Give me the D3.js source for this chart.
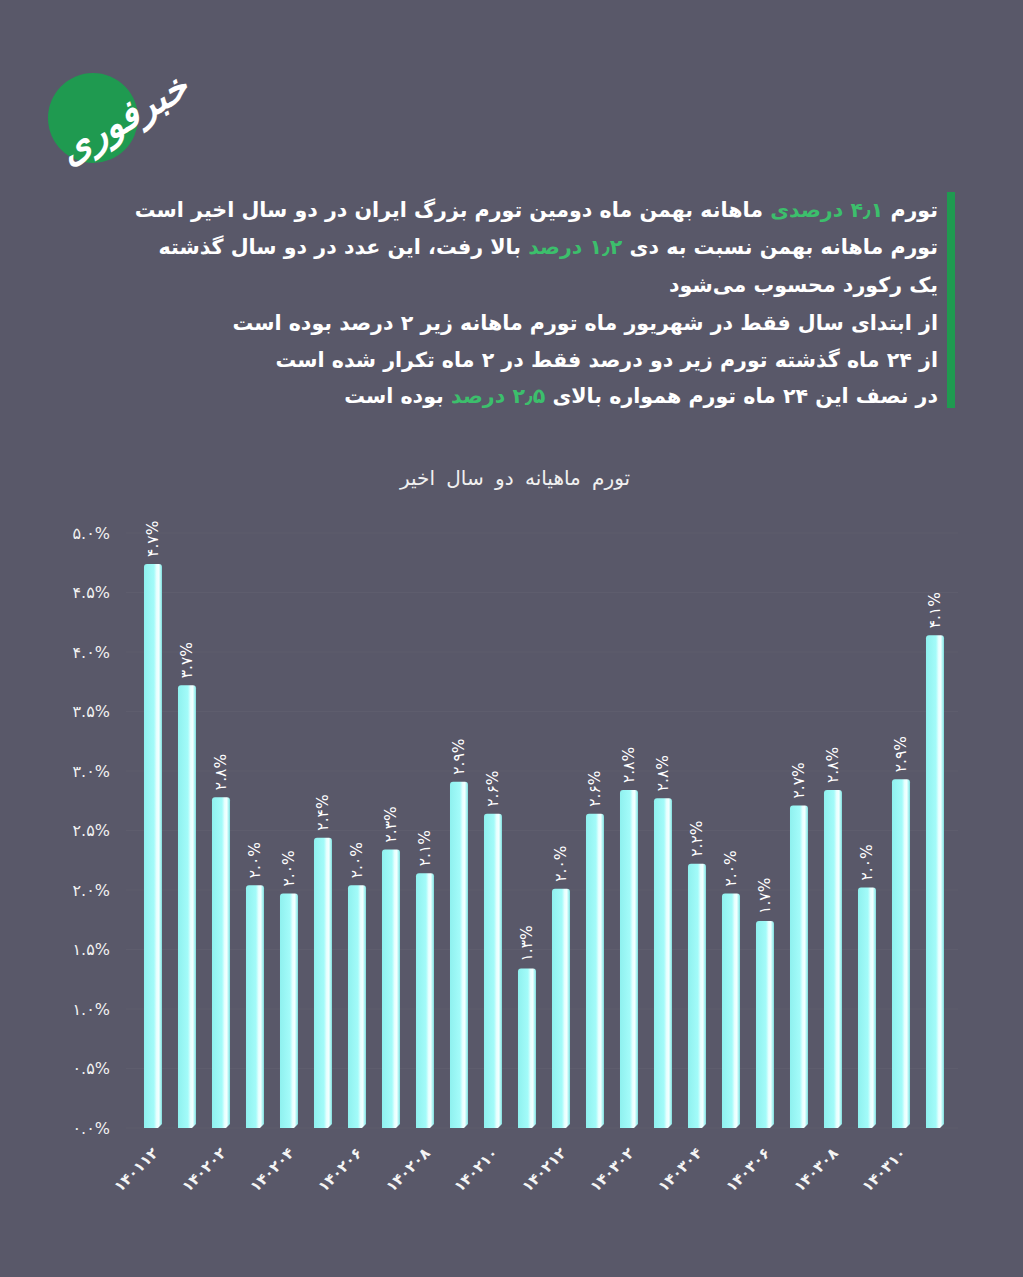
<!DOCTYPE html>
<html><head><meta charset="utf-8">
<script src="https://cdn.jsdelivr.net/npm/d3@7"></script>
<style>
html,body{margin:0;padding:0;background:#595869;}
svg{display:block;}
</style></head>
<body>
<script>
// ---- data ----
const categories = ["140112","140201","140202","140203","140204","140205","140206","140207","140208","140209","140210","140211","140212","140301","140302","140303","140304","140305","140306","140307","140308","140309","140310","140311"];
const inflation = [4.74,3.72,2.78,2.04,1.97,2.44,2.04,2.34,2.14,2.91,2.64,1.34,2.01,2.64,2.84,2.77,2.22,1.97,1.74,2.71,2.84,2.02,2.93,4.14];
const yTicks = [0,0.5,1,1.5,2,2.5,3,3.5,4,4.5,5];
const xTickLabels = ["140112","140202","140204","140206","140208","140210","140212","140302","140304","140306","140308","140310"];
const chartTitle = "تورم ماهیانه دو سال اخیر";
const headline = [
  [["تورم ",false],["۴٫۱ درصدی",true],[" ماهانه بهمن ماه دومین تورم بزرگ ایران در دو سال اخیر است",false]],
  [["تورم ماهانه بهمن نسبت به دی ",false],["۱٫۲ درصد",true],[" بالا رفت، این عدد در دو سال گذشته",false]],
  [["یک رکورد محسوب می‌شود",false]],
  [["از ابتدای سال فقط در شهریور ماه تورم ماهانه زیر ۲ درصد بوده است",false]],
  [["از ۲۴ ماه گذشته تورم زیر دو درصد فقط در ۲ ماه تکرار شده است",false]],
  [["در نصف این ۲۴ ماه تورم همواره بالای ",false],["۲٫۵ درصد",true],[" بوده است",false]]
];
const logoText = "خبرفوری";

const fa = s => String(s).replace(/[0-9]/g, d => "۰۱۲۳۴۵۶۷۸۹"[+d]);

const W = 1023, H = 1277;
const svg = d3.select("body").append("svg").attr("width", W).attr("height", H);
svg.append("rect").attr("width", W).attr("height", H).attr("fill", "#595869");

const FONT = "'DejaVu Sans', 'Noto Sans', sans-serif";

// ---- logo ----
const logo = svg.append("g");
logo.append("circle").attr("cx", 93).attr("cy", 118).attr("r", 45).attr("fill", "#1f9a50");
logo.append("text").attr("x", 130).attr("y", 130)
  .attr("text-anchor", "middle")
  .attr("transform", "rotate(-30,130,130)")
  .attr("fill", "#ffffff").attr("font-family", FONT).attr("font-weight", "bold")
  .attr("font-size", 38).attr("font-style", "italic").text(logoText);

// ---- headline ----
svg.append("rect").attr("x", 947).attr("y", 192).attr("width", 8).attr("height", 216).attr("fill", "#1f9a50");
const lineY = [217, 254, 292, 330, 367, 403];
headline.forEach((parts, i) => {
  const t = svg.append("text")
    .attr("x", 938).attr("y", lineY[i])
    .attr("direction", "rtl").attr("text-anchor", "start")
    .attr("font-family", FONT).attr("font-weight", "bold").attr("font-size", 20.6)
    .attr("fill", "#ffffff");
  parts.forEach(p => t.append("tspan").attr("fill", p[1] ? "#3cbf6c" : "#ffffff").text(p[0]));
});

// ---- chart ----
const x = d3.scaleBand().domain(categories).range([136, 952]).paddingInner(0.47).paddingOuter(0.235);
const y = d3.scaleLinear().domain([0, 5]).range([1128, 533]);

svg.append("text").attr("x", 515).attr("y", 485).attr("text-anchor", "middle")
  .attr("font-family", FONT).attr("font-size", 20).attr("word-spacing", 5).attr("fill", "#f0f0f0").text(chartTitle);

// gridlines
svg.append("g").selectAll("line").data(yTicks).join("line")
  .attr("x1", 126).attr("x2", 958)
  .attr("y1", d => y(d)).attr("y2", d => y(d))
  .attr("stroke", "#5e5d6d").attr("stroke-width", 1);

// y axis
const yAxis = d3.axisLeft(y).tickValues(yTicks).tickSize(0).tickPadding(0)
  .tickFormat(d => fa(d3.format(".1f")(d)) + "%");
const gy = svg.append("g").attr("transform", "translate(110,0)").call(yAxis);
gy.select(".domain").remove();
gy.selectAll("text").attr("font-family", FONT).attr("font-size", 16).attr("fill", "#f2f2f2");

// bar gradient
const defs = svg.append("defs");
const grad = defs.append("linearGradient").attr("id", "barg").attr("x1", "0").attr("x2", "1").attr("y1", "0").attr("y2", "0");
[[0,"#8ff1ef"],[0.55,"#a3fbf9"],[0.7,"#e6ffff"],[0.82,"#f4ffff"],[0.9,"#b8f7f6"],[1,"#7fdcdc"]]
  .forEach(s => grad.append("stop").attr("offset", s[0]).attr("stop-color", s[1]));

const data = categories.map((c, i) => ({c, v: inflation[i]}));
const bars = svg.append("g");
bars.selectAll("path").data(data).join("path")
  .attr("fill", "url(#barg)")
  .attr("d", d => {
    const x0 = x(d.c), w = x.bandwidth(), y0 = y(d.v), y1 = y(0), r = 3;
    return `M${x0},${y1} L${x0},${y0 + r} Q${x0},${y0} ${x0 + r},${y0} L${x0 + w - r},${y0} Q${x0 + w},${y0} ${x0 + w},${y0 + r} L${x0 + w},${y1 - 4} L${x0 + w - 4},${y1} Z`;
  });

// value labels
bars.selectAll("text").data(data).join("text")
  .attr("transform", d => `translate(${x(d.c) + x.bandwidth() / 2},${y(d.v) - 7}) rotate(-90)`)
  .attr("text-anchor", "start").attr("dominant-baseline", "central")
  .attr("font-family", FONT).attr("font-size", 15.5).attr("fill", "#ffffff")
  .text(d => fa(d3.format(".1f")(d.v)) + "%");

// x axis
const xAxis = d3.axisBottom(x).tickValues(xTickLabels).tickSize(0).tickPadding(0).tickFormat(d => fa(d));
const gx = svg.append("g").attr("transform", "translate(0,1140)").call(xAxis);
gx.select(".domain").remove();
gx.selectAll("text")
  .attr("font-family", FONT).attr("font-size", 15).attr("font-weight", "bold").attr("fill", "#f4f4f4")
  .attr("text-anchor", "end").attr("dy", "0").attr("y", 0).attr("x", 0)
  .attr("transform", "translate(6,14) rotate(-45)");
</script>
</body></html>
